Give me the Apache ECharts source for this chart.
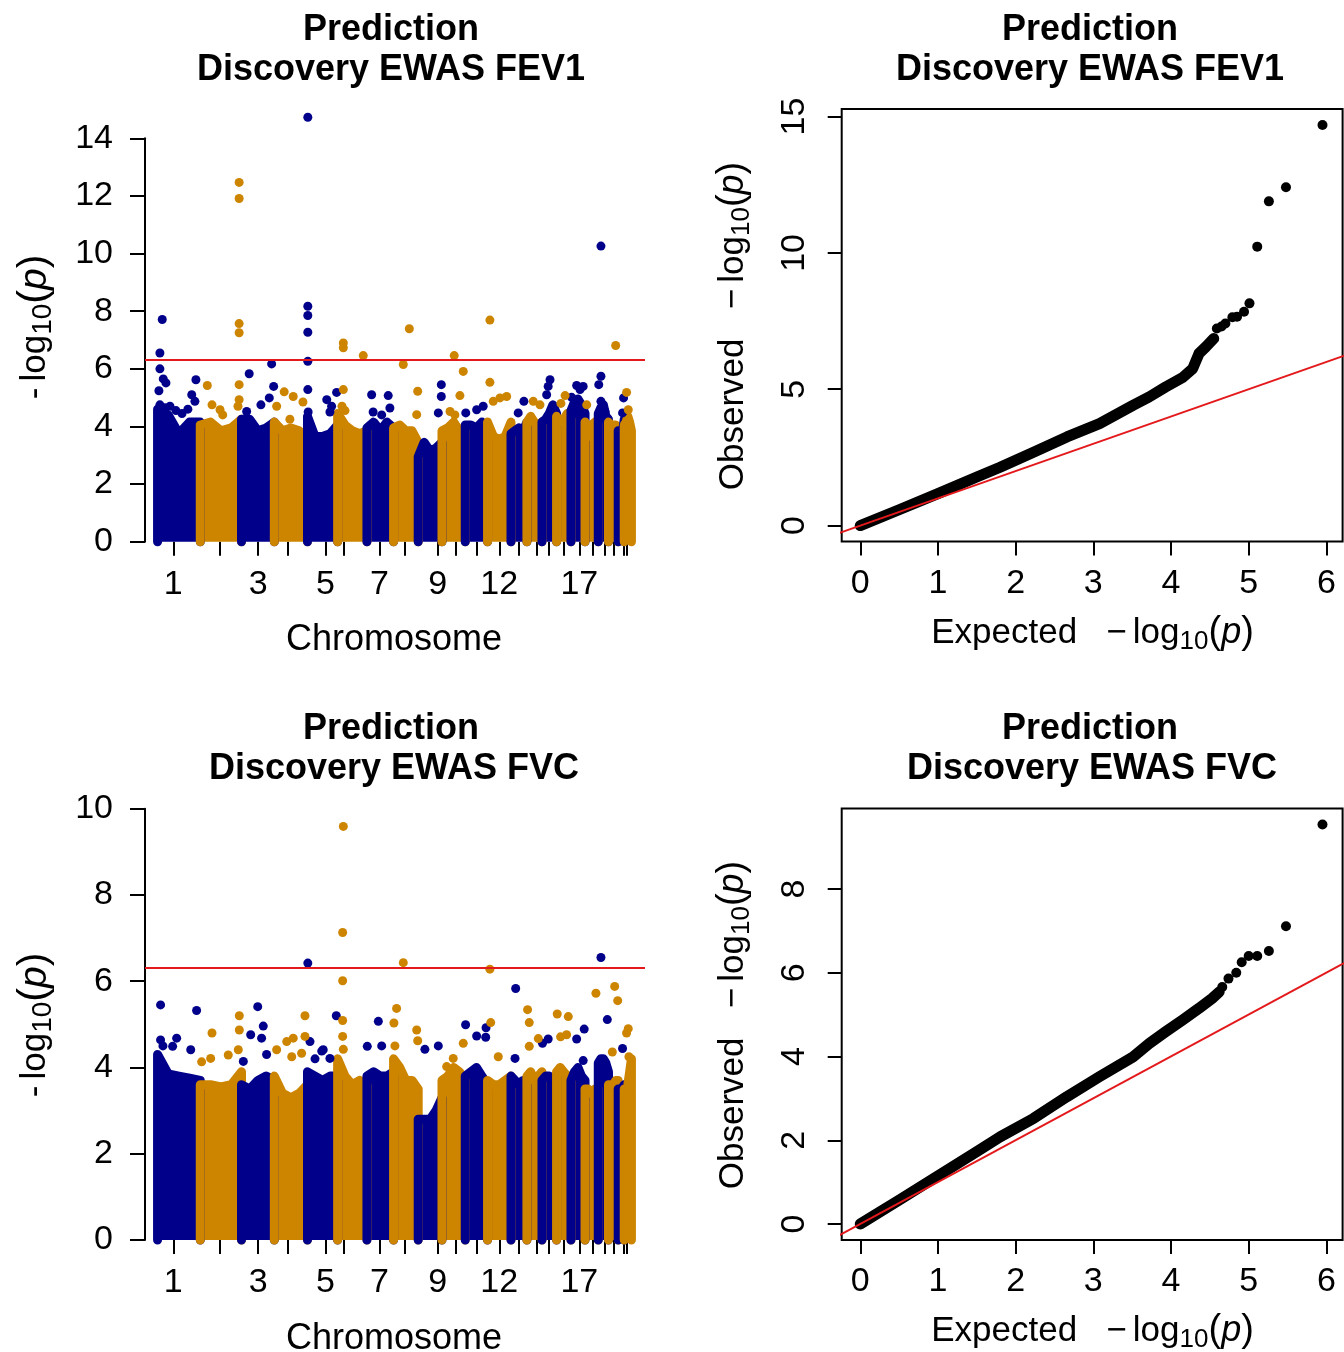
<!DOCTYPE html>
<html><head><meta charset="utf-8">
<script src="https://cdn.jsdelivr.net/npm/echarts@6/dist/echarts.min.js"></script>
<style>html,body{margin:0;padding:0;background:#fff}#c{width:1344px;height:1352px}</style>
</head><body><div id="c"></div>
<script>
// ---------------- data ----------------
const chromosomes = [1,2,3,4,5,6,7,8,9,10,11,12,13,14,15,16,17,18,19,20,21,22];
// cumulative genomic position (Mb) of each chromosome block
const chrStart = [0,255,501,697,895,1075,1250,1409,1556,1698,1837,1970,2110,2205,2295,2382,2468,2552,2631,2692,2750,2786];
const chrEnd   = [255,501,697,895,1075,1250,1409,1556,1698,1837,1970,2110,2205,2295,2382,2468,2552,2631,2692,2750,2786,2829];
const chrTickPos = [94,372,601,780,1003,1109,1324,1477,1672,1781,1905,2040,2159,2263,2338,2422,2518,2598,2671,2725,2786,2804];
const chrLabelShown = [1,3,5,7,9,12,17];

// top of the dense cloud of CpGs, 5 samples across each chromosome (-log10 p)
const fev1Envelope = [
  [4.6,4.4,3.75,4.15,4.15],[4.05,4.15,3.85,3.95,4.25],[4.25,4.25,3.85,3.95,4.15],[4.15,3.85,3.95,3.85,3.55],
  [4.35,3.65,3.65,3.75,4.05],[4.45,4.05,3.85,3.75,3.85],[3.95,4.15,3.85,4.15,3.95],[3.95,4.05,3.85,3.85,3.45],
  [2.95,3.45,3.15,3.25,3.45],[3.85,3.95,4.15,3.85,3.95],[4.05,4.05,3.95,4.15,3.95],[4.15,3.65,3.55,3.65,4.15],
  [3.75,3.85,3.95,3.85,4.15],[4.15,4.35,4.15,4.05,4.15],[4.15,4.25,4.45,4.75,4.45],[4.35,4.15,4.25,4.45,4.25],
  [4.55,4.85,4.95,4.75,4.45],[4.15,3.65,4.05,4.15,4.05],[4.45,4.65,4.75,4.35,4.25],[4.15,4.05,4.05,4.05,3.95],
  [3.85,3.65,3.75,3.85,4.25],[4.05,4.15,4.35,4.15,3.85]
];
const fvcEnvelope = [
  [4.3,3.85,3.8,3.75,3.7],[3.6,3.6,3.55,3.6,3.9],[3.6,3.5,3.7,3.8,3.7],[3.8,3.4,3.3,3.4,3.6],
  [3.9,3.8,3.7,3.8,3.8],[4.2,3.8,3.6,3.7,3.6],[3.8,3.9,3.8,3.8,3.9],[4.2,4.0,3.7,3.7,3.5],
  [2.8,2.8,2.8,3.0,3.3],[3.7,3.8,4.0,3.9,3.7],[3.8,3.9,4.0,3.8,3.6],[3.7,3.6,3.6,3.7,3.8],
  [3.8,3.7,3.6,3.7,3.6],[3.8,3.9,3.7,3.8,3.9],[3.7,3.8,3.8,3.7,3.8],[3.9,4.0,3.9,3.8,3.8],
  [3.7,3.9,4.0,3.8,3.7],[3.5,3.5,3.4,3.5,3.5],[4.1,4.2,4.2,4.1,3.9],[3.6,3.6,3.6,3.7,3.7],
  [3.5,3.5,3.5,3.5,3.6],[3.5,3.4,3.6,3.9,4.2]
];

// individual CpGs above the cloud: [chromosome, position (Mb), -log10 p]
const fev1Hits = [
  [1,28,7.71],[1,14,6.55],[1,14,6.0],[1,34,5.65],[1,50,5.51],[1,8,5.24],[1,229,5.62],[1,204,5.1],[1,223,4.87],
  [1,14,4.75],[1,44,4.65],[1,74,4.7],[1,110,4.55],[1,146,4.45],[1,181,4.6],
  [2,297,5.42],[2,325,4.75],[2,373,4.58],[2,389,4.4],[2,487,12.47],[2,487,11.91],[2,487,7.57],[2,487,7.25],
  [2,487,5.45],[2,487,4.93],[2,480,4.7],
  [3,547,5.83],[3,617,4.75],[3,532,4.52],[3,681,6.17],[3,693,5.39],[3,667,4.99],
  [4,756,5.2],[4,810,5.04],[4,711,4.7],[4,790,4.25],[4,868,4.85],
  [5,897,14.73],[5,897,8.17],[5,897,7.85],[5,897,7.27],[5,897,6.26],[5,897,5.28],[5,899,4.5],[5,1010,4.93],
  [5,1039,4.7],[5,1069,5.18],[5,1029,4.5],
  [6,1109,6.9],[6,1109,6.73],[6,1228,6.46],[6,1109,5.28],[6,1101,4.7],[6,1119,4.55],
  [7,1278,5.1],[7,1377,5.07],[7,1287,4.5],[7,1387,4.64],[7,1338,4.4],
  [8,1503,7.39],[8,1467,6.15],[8,1553,5.22],[8,1547,4.41],
  [9,1694,5.45],[9,1694,5.04],[9,1676,4.47],
  [10,1771,6.46],[10,1825,5.91],[10,1805,5.07],[10,1775,4.4],[10,1746,4.52],
  [11,1840,4.47],[11,1905,4.58],[11,1944,4.7],
  [12,1984,7.69],[12,1984,5.53],[12,2004,4.87],[12,2044,4.99],[12,2084,5.04],
  [13,2153,4.47],[13,2187,4.87],
  [14,2243,4.87],[14,2283,4.75],
  [15,2343,5.62],[15,2332,5.39],[15,2323,5.1],
  [16,2433,5.07],[16,2408,4.8],
  [17,2502,5.42],[17,2541,5.39],[17,2522,5.28],[17,2472,5.01],
  [18,2562,4.75],
  [19,2647,10.26],[19,2647,5.74],[19,2634,5.45],[19,2647,4.87],[19,2671,4.52],
  [20,2735,6.81],
  [21,2782,4.99],[21,2776,4.47],
  [22,2800,5.18],[22,2810,4.58]
];
const fvcHits = [
  [1,18,5.45],[1,18,4.64],[1,114,4.68],[1,90,4.49],[1,233,5.32],[1,198,4.41],[1,32,4.5],
  [2,325,4.8],[2,263,4.13],[2,317,4.21],[2,422,4.29],[2,488,5.2],[2,488,4.87],[2,482,4.41],
  [3,598,5.41],[3,631,4.96],[3,556,4.76],[3,621,4.68],[3,512,4.14],[3,651,4.3],
  [4,880,5.2],[4,880,4.72],[4,771,4.6],[4,810,4.68],[4,801,4.25],[4,711,4.41],[4,860,4.33],
  [5,897,6.42],[5,910,4.6],[5,940,4.2],[5,980,4.38],[5,1067,5.2],[5,989,4.41],[5,1029,4.21],
  [6,1109,9.59],[6,1105,7.13],[6,1105,6.01],[6,1105,5.09],[6,1105,4.72],[6,1109,4.42],
  [7,1318,5.07],[7,1252,4.49],[7,1338,4.5],
  [8,1467,6.43],[8,1427,5.37],[8,1411,5.03],[8,1547,4.87],[8,1553,4.62],[8,1417,4.5],
  [9,1596,4.42],[9,1676,4.5],
  [10,1825,4.56],[10,1765,4.21],[10,1726,4.02],
  [11,1839,4.99],[11,1905,4.73],[11,1959,4.7],[11,1961,4.92],
  [12,1984,6.28],[12,1989,5.04],[12,2034,4.25],
  [13,2138,5.83],[13,2134,4.21],
  [14,2209,5.34],[14,2219,5.04],[14,2219,4.49],[14,2273,4.67],
  [15,2332,4.66],[15,2298,4.56],
  [16,2386,5.24],[16,2452,5.18],[16,2442,4.76],[16,2406,4.71],
  [17,2547,4.89],[17,2502,4.66],[17,2541,4.16],
  [18,2617,5.72],
  [19,2647,6.55],[19,2685,5.11],
  [20,2729,5.88],[20,2747,5.55],[20,2715,4.36],
  [21,2776,4.44],
  [22,2810,4.9],[22,2800,4.8],[22,2814,4.25]
];
const significanceLine = 6.32;

// QQ plots: [expected, observed]
const qqFev1Body = [[0,0],[0.5,0.58],[1,1.17],[1.5,1.78],[1.8,2.14],[2.23,2.69],[2.66,3.25],[3.08,3.74],[3.51,4.41],
  [3.72,4.72],[3.93,5.08],[4.15,5.43],[4.28,5.76],[4.36,6.31],[4.45,6.56],[4.55,6.86]];
const qqFev1Tail = [[4.59,7.23],[4.65,7.3],[4.70,7.41],[4.79,7.64],[4.85,7.66],[4.94,7.84],[5.01,8.15],
  [5.11,10.23],[5.26,11.89],[5.48,12.41],[5.95,14.69]];
const qqFvcBody = [[0,0],[0.5,0.57],[1,1.15],[1.5,1.73],[1.8,2.08],[2.23,2.52],[2.66,3.04],[3.08,3.52],[3.51,3.99],
  [3.72,4.31],[3.93,4.59],[4.15,4.87],[4.36,5.15],[4.53,5.39],[4.62,5.54]];
const qqFvcTail = [[4.66,5.66],[4.74,5.86],[4.84,6.0],[4.91,6.25],[5.0,6.4],[5.11,6.4],[5.26,6.52],[5.48,7.11],[5.95,9.54]];
const qqIdentity = [[-1,-1],[16,16]];

const qqXTicks = [0,1,2,3,4,5,6];
const qqFev1YTicks = [0,5,10,15];
const qqFvcYTicks = [0,2,4,6,8];

// ---------------- styles ----------------
const BLUE = '#00008B', ORANGE = '#CD8500', RED = '#E3191C';
const FONT = '"Liberation Sans", Arial, Helvetica, sans-serif';
const chrColor = c => (c % 2 === 1 ? BLUE : ORANGE);

function envelopeSeries(env, idx) {
  return env.map((h, i) => {
    const s = chrStart[i], e = chrEnd[i], n = h.length;
    const pts = [[s, 0]];
    h.forEach((v, k) => pts.push([s + (e - s) * k / (n - 1), v]));
    pts.push([e, 0]);
    return {
      type: 'line', xAxisIndex: idx, yAxisIndex: idx, data: pts, symbol: 'none', showSymbol: false,
      silent: true, clip: false, animation: false, z: 2,
      lineStyle: { color: chrColor(i + 1), width: 9, join: 'round', cap: 'round' },
      areaStyle: { color: chrColor(i + 1), opacity: 1 }
    };
  });
}
function hitSeries(hits, idx) {
  return [1, 0].map(par => ({
    type: 'scatter', xAxisIndex: idx, yAxisIndex: idx, clip: false, silent: true, animation: false, z: 3,
    symbolSize: 9, itemStyle: { color: par ? BLUE : ORANGE, opacity: 1 },
    data: hits.filter(h => h[0] % 2 === par).map(h => [h[1], h[2]])
  }));
}
function thresholdSeries(idx) {
  return {
    type: 'line', xAxisIndex: idx, yAxisIndex: idx, data: [], silent: true, animation: false, z: 4,
    markLine: { silent: true, symbol: 'none', animation: false, label: { show: false },
      lineStyle: { color: RED, width: 2, type: 'solid' }, data: [{ yAxis: significanceLine }] }
  };
}
function qqSeries(body, tail, idx) {
  return [
    { type: 'line', xAxisIndex: idx, yAxisIndex: idx, data: body, symbol: 'none', clip: false, silent: true,
      animation: false, z: 2, lineStyle: { color: '#000', width: 11, cap: 'round', join: 'round' } },
    { type: 'scatter', xAxisIndex: idx, yAxisIndex: idx, data: tail, symbolSize: 10, clip: false, silent: true,
      animation: false, z: 3, itemStyle: { color: '#000', opacity: 1 } },
    { type: 'line', xAxisIndex: idx, yAxisIndex: idx, data: qqIdentity, symbol: 'none', clip: true, silent: true,
      animation: false, z: 4, lineStyle: { color: RED, width: 2 } }
  ];
}

const tickStyle = { color: '#000', width: 2 };
const labelBase = { color: '#000', fontSize: 34, fontFamily: FONT };

const labelPositions = chrLabelShown.map(c => chrTickPos[c - 1]);
function chrLabel(v) {
  for (let i = 0; i < chrTickPos.length; i++) if (Math.abs(chrTickPos[i] - v) < 1e-6) return String(chromosomes[i]);
  return '';
}

function manX(grid) {
  return { gridIndex: grid, type: 'value', min: -75, max: 2910,
    axisLine: { show: false, onZero: false }, splitLine: { show: false },
    axisTick: { show: true, length: 14, lineStyle: tickStyle, customValues: chrTickPos },
    axisLabel: Object.assign({ margin: 26, customValues: labelPositions, formatter: chrLabel }, labelBase) };
}
function manY(grid, max) {
  return { gridIndex: grid, type: 'value', min: 0, max: max, interval: 2,
    axisLine: { show: true, onZero: false, lineStyle: tickStyle }, splitLine: { show: false },
    axisTick: { show: true, length: 15, lineStyle: tickStyle },
    axisLabel: Object.assign({ margin: 32 }, labelBase) };
}
function qqX(grid) {
  return { gridIndex: grid, type: 'value', min: -0.2388, max: 6.2088,
    axisLine: { show: false, onZero: false }, splitLine: { show: false },
    axisTick: { show: true, length: 14, lineStyle: tickStyle, customValues: qqXTicks },
    axisLabel: Object.assign({ margin: 25, customValues: qqXTicks }, labelBase) };
}
function qqY(grid, min, max, ticks) {
  return { gridIndex: grid, type: 'value', min: min, max: max,
    axisLine: { show: false, onZero: false }, splitLine: { show: false },
    axisTick: { show: true, length: 14, lineStyle: tickStyle, customValues: ticks },
    axisLabel: Object.assign({ margin: 30, rotate: 90, customValues: ticks }, labelBase) };
}

function makeRich(sub, paren) {
  return {
    n: { fontSize: 35, fontFamily: FONT, fill: '#000' },
    g: { fontSize: 22, fontFamily: FONT, fill: '#000' },
    s: { fontSize: sub, fontFamily: FONT, fill: '#000', padding: [17, 0, 0, 0] },
    i: { fontSize: paren - 2, fontFamily: FONT, fill: '#000', fontStyle: 'italic' },
    b: { fontSize: paren, fontFamily: FONT, fill: '#000' }
  };
}
const qqRich = makeRich(26, 38);
const manRich = makeRich(28, 41);
const logTail = '{s|10}{b|(}{i|p}{b|)}';
function text(x, y, str, opt) {
  opt = opt || {};
  return { type: 'text', x: x, y: y, rotation: opt.rot || 0, silent: true, z: 10,
    style: { text: str, rich: opt.rich, fill: '#000', fontFamily: FONT, fontSize: opt.size || 35,
      fontWeight: opt.bold ? 'bold' : 'normal', align: 'center', verticalAlign: 'middle',
      textAlign: 'center', textVerticalAlign: 'middle' } };
}
const R90 = Math.PI / 2;
const expectedLabel = '{n|Expected   \u2212}{g| }{n|log}' + logTail;
const observedLabel = '{n|Observed   \u2212}{g| }{n|log}' + logTail;
const manYLabel = '{n|-}{g| }{n|log}' + logTail;

const option = {
  animation: false,
  backgroundColor: '#fff',
  grid: [
    { left: 145, top: 138.3, width: 500, height: 403.4, outerBoundsMode: 'none' },
    { left: 841.7, top: 109, width: 500.9, height: 432.6, show: true, borderColor: '#000', borderWidth: 2, backgroundColor: 'transparent', outerBoundsMode: 'none' },
    { left: 145, top: 808.7, width: 500, height: 431.3, outerBoundsMode: 'none' },
    { left: 841.7, top: 808.5, width: 500.9, height: 431.5, show: true, borderColor: '#000', borderWidth: 2, backgroundColor: 'transparent', outerBoundsMode: 'none' }
  ],
  xAxis: [manX(0), qqX(1), manX(2), qqX(3)],
  yAxis: [manY(0, 14), qqY(1, -0.5876, 15.2776, qqFev1YTicks), manY(2, 10), qqY(3, -0.3816, 9.9216, qqFvcYTicks)],
  series: [].concat(
    envelopeSeries(fev1Envelope, 0), hitSeries(fev1Hits, 0), [thresholdSeries(0)],
    qqSeries(qqFev1Body, qqFev1Tail, 1),
    envelopeSeries(fvcEnvelope, 2), hitSeries(fvcHits, 2), [thresholdSeries(2)],
    qqSeries(qqFvcBody, qqFvcTail, 3)
  ),
  graphic: [
    text(391, 30, 'Prediction', { bold: true, size: 36 }),
    text(391, 70.5, 'Discovery EWAS FEV1', { bold: true, size: 36 }),
    text(1090, 30, 'Prediction', { bold: true, size: 36 }),
    text(1090, 70.5, 'Discovery EWAS FEV1', { bold: true, size: 36 }),
    text(391, 729, 'Prediction', { bold: true, size: 36 }),
    text(394, 769, 'Discovery EWAS FVC', { bold: true, size: 36 }),
    text(1090, 729, 'Prediction', { bold: true, size: 36 }),
    text(1092, 769, 'Discovery EWAS FVC', { bold: true, size: 36 }),
    text(394, 640, 'Chromosome', { size: 36 }),
    text(394, 1339.5, 'Chromosome', { size: 36 }),
    text(1092.5, 633, expectedLabel, { rich: qqRich }),
    text(1092.5, 1331, expectedLabel, { rich: qqRich }),
    text(35, 327, manYLabel, { rich: manRich, rot: R90 }),
    text(35, 1025, manYLabel, { rich: manRich, rot: R90 }),
    text(733, 326, observedLabel, { rich: qqRich, rot: R90 }),
    text(733, 1025, observedLabel, { rich: qqRich, rot: R90 })
  ]
};
const chart = echarts.init(document.getElementById('c'), null, { renderer: 'canvas' });
chart.setOption(option);
</script>
</body></html>
